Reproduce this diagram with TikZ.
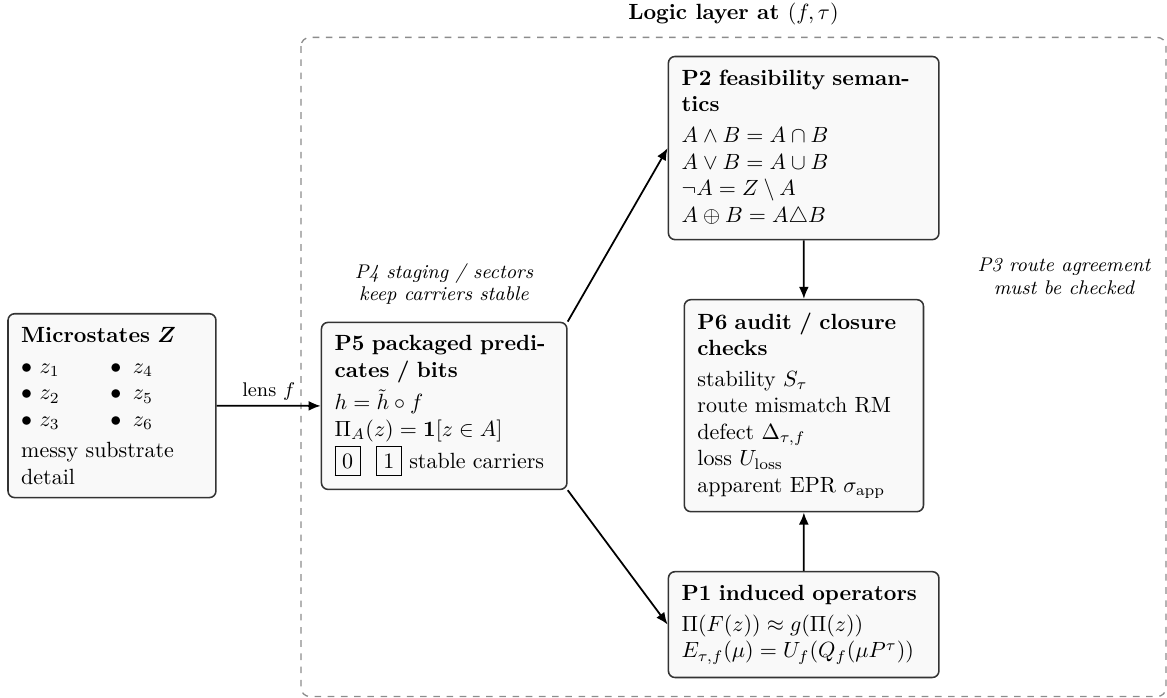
\documentclass[tikz,border=0pt]{standalone}
\usetikzlibrary{arrows.meta}
\begin{document}
\begin{tikzpicture}[
  box/.style={draw=black!80, fill=black!2.5, rounded corners=3pt, line width=0.7pt, inner sep=6pt, align=left},
  arr/.style={-{Latex[length=5.5pt,width=4.5pt]}, line width=0.8pt},
  note/.style={font=\small\itshape, align=center},
  frame/.style={draw=black!45, dashed, line width=0.6pt, rounded corners=4pt}
]
\useasboundingbox (0pt,0pt) rectangle (530.45pt,-317.27pt);

\draw[frame] (136.8pt,-17.0pt) rectangle (530.0pt,-316.6pt);
\node[font=\bfseries] (title) at (333.4pt,-6.4pt) {Logic layer at $(f,\tau)$};

\node[box, text width=2.9cm] (micro) at (50.9pt,-184.4pt)
  {\textbf{Microstates {\boldmath$Z$}}\\[2.3pt]
   \makebox[40.5pt][l]{$\bullet$ $z_1$}$\bullet$\hspace{5.3pt}$z_4$\\
   \makebox[40.5pt][l]{$\bullet$ $z_2$}$\bullet$\hspace{5.3pt}$z_5$\\
   \makebox[40.5pt][l]{$\bullet$ $z_3$}$\bullet$\hspace{5.3pt}$z_6$\\[2.3pt]
   messy substrate detail};

\node[box, text width=3.5cm] (p5) at (201.9pt,-184.5pt)
  {\textbf{P5 packaged predicates / bits}\\[2.8pt]
   $h=\tilde h\circ f$\\
   $\Pi_A(z)=\mathbf{1}[z\in A]$\\[1pt]
   \fbox{0}\hspace{7pt}\fbox{1} stable carriers};

\node[box, text width=3.9cm] (p2) at (365.3pt,-67.3pt)
  {\textbf{P2 feasibility semantics}\\[2.3pt]
   $A\wedge B=A\cap B$\\
   $A\vee B=A\cup B$\\
   $\neg A=Z\setminus A$\\
   $A\oplus B=A\triangle B$};

\node[box, text width=3.4cm] (p6) at (365.4pt,-184.4pt)
  {\textbf{P6 audit / closure checks}\\[2pt]
   stability $S_\tau$\\
   route mismatch RM\\
   defect $\Delta_{\tau,f}$\\
   loss $U_{\mathrm{loss}}$\\
   apparent EPR $\sigma_{\mathrm{app}}$};

\node[box, text width=3.9cm] (p1) at (365.3pt,-283.9pt)
  {\textbf{P1 induced operators}\\[2.3pt]
   $\Pi(F(z))\approx g(\Pi(z))$\\
   $E_{\tau,f}(\mu)=U_f(Q_f(\mu P^\tau))$};

\node[note] (p4) at (201.8pt,-129.1pt) {P4 staging / sectors\\[-1pt]keep carriers stable};
\node[note] (p3) at (483.6pt,-125.7pt) {P3 route agreement\\[-0.8pt]must be checked};

\draw[arr] (micro.east) -- node[above, font=\small, inner sep=2pt] {lens $f$} (p5.west);
\draw[arr] (p5.north east) -- (p2.west);
\draw[arr] (p5.south east) -- (p1.west);
\draw[arr] (p2.south) -- (p6.north);
\draw[arr] (p1.north) -- (p6.south);
\end{tikzpicture}
\end{document}
